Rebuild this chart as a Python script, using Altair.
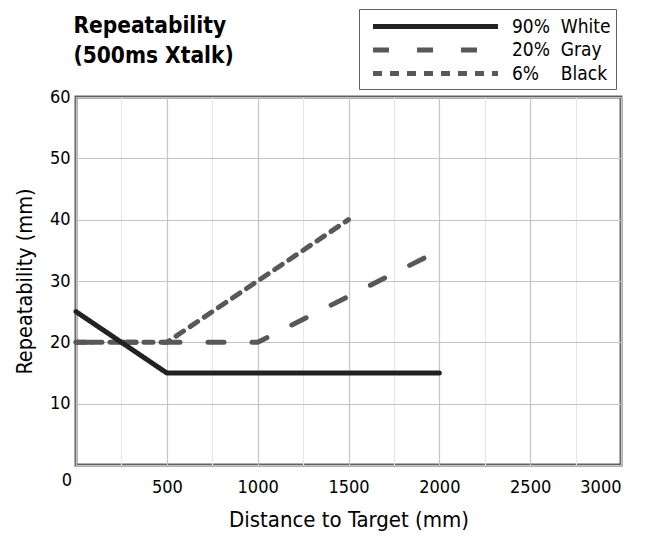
import altair as alt
import pandas as pd

FONT = "'Liberation Sans Narrow', 'DejaVu Sans Condensed', 'Liberation Sans', Arial, sans-serif"

NB = "\u00a0"
series_names = ["90%" + NB * 2 + "White", "20%" + NB * 2 + "Gray", "6%" + NB * 4 + "Black"]
white_x = [0, 500, 2000]
white_y = [25, 15, 15]
gray_x = [0, 500, 1000, 2000]
gray_y = [20, 20, 20, 35]
black_x = [0, 500, 1500]
black_y = [20, 20, 40]

x_ticks = list(range(0, 3001, 250))
y_ticks = list(range(0, 61, 5))

rows = []
for name, xs, ys in zip(series_names, [white_x, gray_x, black_x], [white_y, gray_y, black_y]):
    for i, (a, b) in enumerate(zip(xs, ys)):
        rows.append({"series": name, "x": a, "y": b, "i": i})
df = pd.DataFrame(rows)

x_enc = alt.X("x:Q", scale=alt.Scale(domain=[0, 3000], nice=False),
              axis=alt.Axis(values=x_ticks, title="Distance to Target (mm)",
                            labelExpr="datum.value % 500 === 0 && datum.value > 0 ? datum.label : ''",
                            gridColor=alt.condition("datum.value % 500 === 0", alt.value("#c4c4c4"), alt.value("#e6e6e6")),
                            gridWidth=1.2, domain=False, ticks=False, labelPadding=13,
                            labelFontSize=18, titleFontSize=22, titlePadding=13,
                            titleFontWeight="normal", format="d"))
y_enc = alt.Y("y:Q", scale=alt.Scale(domain=[0, 60], nice=False),
              axis=alt.Axis(values=y_ticks, title="Repeatability (mm)",
                            labelExpr="datum.value % 10 === 0 && datum.value > 0 ? datum.label : ''",
                            gridColor=alt.condition("datum.value % 10 === 0", alt.value("#c4c4c4"), alt.value("#e6e6e6")),
                            gridWidth=1.2, domain=False, ticks=False, labelPadding=6,
                            labelFontSize=18, titleFontSize=21.5, titlePadding=13,
                            titleFontWeight="normal"))

color_scale = alt.Scale(domain=series_names, range=["#222222", "#585858", "#585858"])
dash_scale = alt.Scale(domain=series_names, range=[[1, 0], [16, 28], [9, 8]])

legend = alt.Legend(title=None, orient="none", legendX=283, legendY=-88,
                    symbolType="M-6.25,0H6.25", symbolSize=400, symbolStrokeWidth=5,
                    labelFontSize=19, labelFont=FONT, strokeColor="#606060",
                    padding=5, rowPadding=0.5, labelLimit=300, labelOffset=64,
                    symbolOffset=59, labelColor="black")

def layer_for(name):
    return alt.Chart(df).transform_filter(alt.datum.series == name).mark_line(
        strokeWidth=5, strokeCap="round", strokeJoin="round"
    ).encode(
        x=x_enc, y=y_enc,
        color=alt.Color("series:N", scale=color_scale, legend=legend),
        strokeDash=alt.StrokeDash("series:N", scale=dash_scale, legend=legend),
        order="i:Q",
    )

zero = alt.Chart(pd.DataFrame({"x": [0], "y": [0], "t": ["0"]})).mark_text(
    fontSize=18, font=FONT, dx=-9, dy=16, color="black"
).encode(x=alt.X("x:Q"), y=alt.Y("y:Q"), text="t:N")

chart = alt.layer(
    layer_for(series_names[1]), layer_for(series_names[2]), layer_for(series_names[0]), zero
).properties(
    width=545, height=368,
    autosize=alt.AutoSizeParams(type="none"),
    padding={"left": 68, "top": 89, "right": 23, "bottom": 68},
    title=alt.TitleParams(["Repeatability", "(500ms Xtalk)"], anchor="start", dx=59,
                          fontSize=22.5, font=FONT, fontWeight="bold", lineHeight=30,
                          offset=0, dy=59, color="black"),
).configure_view(stroke="#606060", strokeWidth=3).configure_axis(
    labelFont=FONT, titleFont=FONT, labelColor="black", titleColor="black"
)

chart.save("out.html", embed_options={"renderer": "svg", "actions": False})
